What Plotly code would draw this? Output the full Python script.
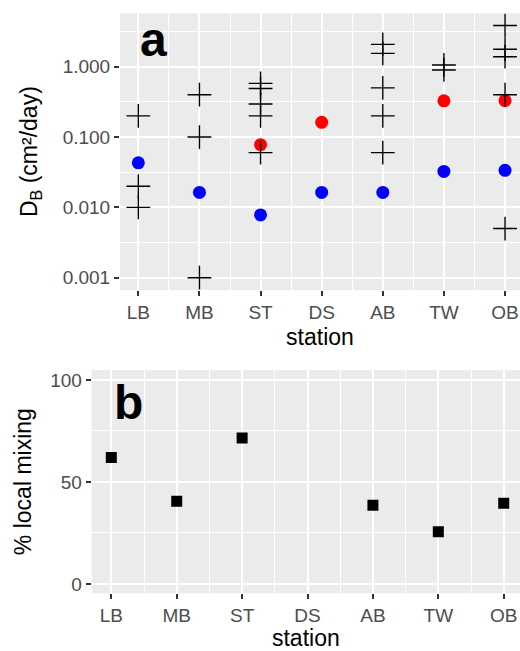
import plotly.graph_objects as go

# ---------------- data ----------------
stations = ["LB", "MB", "ST", "DS", "AB", "TW", "OB"]

# panel a: individual estimates (crosses)
cross_station = ["LB", "LB", "LB",
                 "MB", "MB", "MB",
                 "ST", "ST", "ST", "ST", "ST",
                 "AB", "AB", "AB", "AB", "AB",
                 "TW", "TW",
                 "OB", "OB", "OB", "OB", "OB"]
cross_db = [0.20, 0.020, 0.010,
            0.40, 0.10, 0.001,
            0.58, 0.49, 0.295, 0.20, 0.060,
            2.08, 1.55, 0.50, 0.20, 0.060,
            1.06, 0.90,
            3.85, 1.77, 1.39, 0.40, 0.005]

# panel a: blue dots (all stations)
blue_db = [0.043, 0.0163, 0.0078, 0.0163, 0.0163, 0.0325, 0.0336]

# panel a: red dots
red_station = ["ST", "DS", "TW", "OB"]
red_db = [0.078, 0.162, 0.328, 0.33]

# panel b: % local mixing
local_mixing = [62, 40.5, 71.6, None, 38.6, 25.6, 39.5]

y_ticks_a = [0.001, 0.01, 0.1, 1.0]
y_ticklabels_a = ["0.001", "0.010", "0.100", "1.000"]
y_ticks_b = [0, 50, 100]

# ---------------- figure ----------------
idx = {s: i for i, s in enumerate(stations)}
FONT = "Liberation Sans, Arial, sans-serif"
W, H = 520, 651

fig = go.Figure()

fig.add_trace(go.Scatter(
    x=[idx[s] for s in stations], y=blue_db, mode="markers",
    marker=dict(color="#0000FF", size=13, line=dict(width=0)),
    xaxis="x", yaxis="y", showlegend=False))
fig.add_trace(go.Scatter(
    x=[idx[s] for s in red_station], y=red_db, mode="markers",
    marker=dict(color="#FF0000", size=13, line=dict(width=0)),
    xaxis="x", yaxis="y", showlegend=False))
fig.add_trace(go.Scatter(
    x=[idx[s] for s in cross_station], y=cross_db, mode="markers",
    marker=dict(symbol="cross-thin-open", color="black", size=17,
                line=dict(color="black", width=1.4)),
    xaxis="x", yaxis="y", showlegend=False))

fig.add_trace(go.Scatter(
    x=list(range(len(stations))), y=local_mixing, mode="markers",
    marker=dict(symbol="square", color="black", size=11, line=dict(width=0)),
    xaxis="x2", yaxis="y2", showlegend=False))

tickfont = dict(family=FONT, size=19, color="#4D4D4D")
titlefont = dict(family=FONT, size=23, color="black")
common = dict(showline=False, zeroline=False, ticks="outside", ticklen=5,
              tickwidth=1.5, tickcolor="#333333", tickfont=tickfont,
              showgrid=True, gridcolor="white", gridwidth=2)

def px_x(p):
    return p / W

def px_y(p):
    return 1 - p / H

xa_minor = dict(tickvals=[i + 0.5 for i in range(len(stations) - 1)],
                showgrid=True, gridcolor="white", gridwidth=1, ticklen=0)

fig.update_layout(
    width=W, height=H, margin=dict(l=0, r=0, t=0, b=0),
    paper_bgcolor="white", plot_bgcolor="#EBEBEB",
    font=dict(family=FONT),
    xaxis=dict(domain=[px_x(120), 1], range=[-0.3, 6.245], anchor="y",
               tickmode="array", tickvals=list(range(len(stations))), ticktext=stations,
               title=dict(text="station", font=titlefont, standoff=7),
               minor=xa_minor, **common),
    yaxis=dict(domain=[px_y(290), px_y(13.3)], type="log", range=[-3.175, 0.76],
               anchor="x", tickmode="array", tickvals=y_ticks_a, ticktext=y_ticklabels_a,
               title=dict(text="D<sub>B</sub> (cm²/day)", font=titlefont, standoff=18),
               minor=dict(tickvals=[10 ** -3.5, 10 ** -2.5, 10 ** -1.5, 10 ** -0.5, 10 ** 0.5],
                          showgrid=True, gridcolor="white", gridwidth=1, ticklen=0),
               **common),
    xaxis2=dict(domain=[px_x(91.7), 1], range=[-0.3, 6.249], anchor="y2",
                tickmode="array", tickvals=list(range(len(stations))), ticktext=stations,
                title=dict(text="station", font=titlefont, standoff=8),
                minor=xa_minor, **common),
    yaxis2=dict(domain=[px_y(593.3), px_y(370)], range=[-4.6, 104.9], anchor="x2",
                tickmode="array", tickvals=y_ticks_b,
                title=dict(text="% local mixing", font=titlefont, standoff=12),
                minor=dict(tickvals=[25, 75], showgrid=True, gridcolor="white",
                           gridwidth=1, ticklen=0),
                **common),
)

fig.add_annotation(text="<b>a</b>", xref="paper", yref="paper",
                   x=px_x(153), y=px_y(40), xanchor="center", yanchor="middle",
                   showarrow=False, font=dict(family=FONT, size=48, color="black"))
fig.add_annotation(text="<b>b</b>", xref="paper", yref="paper",
                   x=px_x(128), y=px_y(402), xanchor="center", yanchor="middle",
                   showarrow=False, font=dict(family=FONT, size=48, color="black"))

fig.write_html("out.html", config={"displayModeBar": False},
               post_script="document.body.style.margin='0';"
                           "document.body.style.overflow='hidden';")
